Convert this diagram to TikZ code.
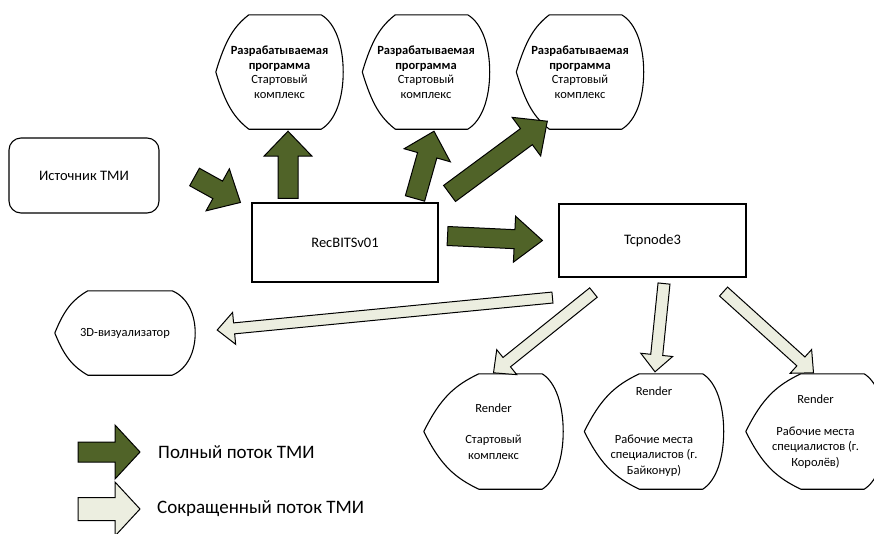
\documentclass[tikz,border=0pt]{standalone}
\usepackage{fontspec}
\setmainfont{Carlito}
\usetikzlibrary{calc,positioning}
\definecolor{fullflow}{RGB}{80,99,40}
\definecolor{shortflow}{RGB}{236,238,224}
\tikzset{
  outline/.style={draw=black, line width=1.1pt, line join=round},
  box/.style={
    rectangle,
    draw=black, line width=1.1pt,
    inner sep=0pt,
    font=\fontsize{14.5}{17}\selectfont},
  srcbox/.style={box, rounded corners=12pt,
    minimum width=150pt, minimum height=75pt},
  progbox/.style={
    rectangle, inner sep=0pt, align=center,
    minimum width=127pt, minimum height=114pt,
    font=\fontsize{12.5}{14.5}\selectfont},
  vizbox/.style={
    rectangle, inner sep=0pt,
    minimum width=140pt, minimum height=84pt,
    font=\fontsize{12.5}{15}\selectfont},
  renderbox/.style={
    rectangle, inner sep=0pt, align=center,
    minimum width=139pt, minimum height=115pt,
    font=\fontsize{12.5}{15.5}\selectfont},
  legend/.style={anchor=west, inner sep=0pt,
    font=\fontsize{19}{22}\selectfont},
  full/.style={draw=black, fill=fullflow, line width=1pt, line join=miter},
  short/.style={draw=black, fill=shortflow, line width=1pt, line join=miter},
}
% block arrow: style, tail, tip, shaft half width, head half width, head length
\newcommand{\fatarrow}[6]{%
  \path (#2) coordinate (tail) (#3) coordinate (tip);
  \path ($(tip)!#6!(tail)$) coordinate (neck);
  \draw[#1] ($(tail)!#4!90:(tip)$) -- ($(neck)!#4!90:(tip)$)
    -- ($(neck)!#5!90:(tip)$) -- (tip) -- ($(neck)!#5!-90:(tip)$)
    -- ($(neck)!#4!-90:(tip)$) -- ($(tail)!#4!-90:(tip)$) -- cycle;
}
\begin{document}
\begin{tikzpicture}[x=1pt,y=-1pt]
  \useasboundingbox (0,0) rectangle (874,533);
  \clip (0,0) rectangle (874,533);

  \node[srcbox] (src) at (84,175.5) {Источник ТМИ};
  \node[box, minimum width=186pt, minimum height=79pt] (rec) at (345,242.5) {RecBITSv01};
  \node[box, minimum width=187pt, minimum height=73pt] (tcp) at (652.5,240.5) {Tcpnode3};

  \node[progbox] (top1) at (279.5,72)
    {\textbf{Разрабатываемая}\\\textbf{программа}\\Стартовый\\комплекс};
  \node[progbox] (top2) at (426,72)
    {\textbf{Разрабатываемая}\\\textbf{программа}\\Стартовый\\комплекс};
  \node[progbox] (top3) at (580,72)
    {\textbf{Разрабатываемая}\\\textbf{программа}\\Стартовый\\комплекс};

  \node[vizbox] (viz) at (125,333) {3D-визуализатор};

  \node[renderbox] (r1) at (493.5,431.5)
    {Render\\[16pt]Стартовый\\комплекс};
  \node[renderbox] (r2) at (654,431.5)
    {Render\\[32pt]Рабочие места\\специалистов (г.\\Байконур)};
  \node[renderbox] (r3) at (815.5,431.5)
    {Render\\[16pt]Рабочие места\\специалистов (г.\\Королёв)};

  % display shaped outlines
  \foreach \n/\li/\ri in {top1/33/22,top2/33/22,top3/33/22,viz/33/23,r1/55/21,r2/55/21,r3/55/21}{
    \path ([xshift=\li pt]\n.north west) coordinate (tl)
          ([xshift=-\ri pt]\n.north east) coordinate (tr)
          ([xshift=-\ri pt]\n.south east) coordinate (br)
          ([xshift=\li pt]\n.south west) coordinate (bl);
    \draw[outline] (tl) -- (tr)
      .. controls ($(tr)!0.6!(\n.north east)!0.15!(\n.east)$) and ($(\n.east)!0.45!(\n.north east)$) .. (\n.east)
      .. controls ($(\n.east)!0.45!(\n.south east)$) and ($(br)!0.6!(\n.south east)!0.15!(\n.east)$) .. (br)
      -- (bl)
      .. controls ($(bl)!0.3!(\n.south west)!0.2!(\n.west)$) and ($(\n.west)!0.4!(\n.south west)!0.3!(bl)$) .. (\n.west)
      .. controls ($(\n.west)!0.4!(\n.north west)!0.3!(tl)$) and ($(tl)!0.3!(\n.north west)!0.2!(\n.west)$) .. (tl)
      -- cycle;
  }

  % full flow
  \fatarrow{full}{[shift={(35,1.5)}]src.east}{[shift={(-11,0)}]rec.north west}{10pt}{24pt}{26pt}
  \fatarrow{full}{[shift={(-57,-4)}]rec.north}{[shift={(8.5,2)}]top1.south}{10pt}{24pt}{25pt}
  \fatarrow{full}{[shift={(70,-4)}]rec.north}{[shift={(8,2)}]top2.south}{10pt}{24pt}{25pt}
  \fatarrow{full}{[shift={(11,-9)}]rec.north east}{[shift={(31,-8)}]top3.south west}{10pt}{24pt}{26pt}
  \fatarrow{full}{[shift={(9,-6.5)}]rec.east}{[shift={(-16,0)}]tcp.west}{9.5pt}{23pt}{28pt}

  % short flow
  \fatarrow{short}{[shift={(-6,20)}]tcp.south west}{[shift={(22,-3)}]viz.east}{5.5pt}{16pt}{17pt}
  \fatarrow{short}{[shift={(35,15)}]tcp.south west}{[shift={(0,-1)}]r1.north}{6pt}{16pt}{17pt}
  \fatarrow{short}{[shift={(11.5,6)}]tcp.south}{[shift={(1,-2)}]r2.north}{6pt}{16pt}{17pt}
  \fatarrow{short}{[shift={(-23,14)}]tcp.south east}{[shift={(-2,-1)}]r3.north}{6pt}{16pt}{17pt}

  % legend
  \node[legend] (leg1) at (158,452) {Полный поток ТМИ};
  \node[legend] (leg2) at (157,509) {Сокращенный поток ТМИ};
  \fatarrow{full}{[xshift=-80pt]leg1.west}{[xshift=-18pt]leg1.west}{10pt}{27pt}{25pt}
  \fatarrow{short}{[xshift=-79pt]leg2.west}{[xshift=-17pt]leg2.west}{11.5pt}{27pt}{25pt}
\end{tikzpicture}
\end{document}
